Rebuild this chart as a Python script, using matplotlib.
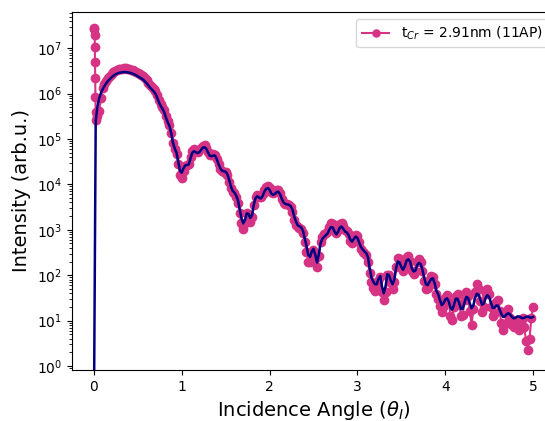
import numpy as np
import matplotlib
matplotlib.use("Agg")
import matplotlib.pyplot as plt

# Measured data: spike at the very first angles (theta, log10 intensity)
spike_theta = [0.004, 0.006, 0.008, 0.010, 0.012, 0.014, 0.016, 0.018, 0.020]
spike_log = [7.44, 7.42, 7.29, 7.03, 6.70, 6.34, 5.93, 5.60, 5.42]

# Measured data (log10 intensity), angle grid 0.04 ... 5.00 step 0.02
data_log = [
    5.50, 5.62, 5.90, 6.12, 6.22, 6.29, 6.35, 6.40,           # 0.04-0.18
    6.44, 6.47, 6.50, 6.52, 6.535, 6.545, 6.55, 6.555, 6.555, 6.55,  # 0.20-0.38
    6.54, 6.53, 6.515, 6.50, 6.48, 6.455, 6.43, 6.41, 6.38, 6.34,    # 0.40-0.58
    6.30, 6.24, 6.19, 6.15, 6.10, 6.05, 5.96, 5.86, 5.78, 5.71,      # 0.60-0.78
    5.63, 5.50, 5.40, 5.31, 5.14, 4.92, 4.78, 4.66, 4.45, 4.20,      # 0.80-0.98
    4.15, 4.30, 4.40, 4.42, 4.45, 4.60, 4.74, 4.77, 4.74, 4.72,      # 1.00-1.18
    4.75, 4.80, 4.85, 4.86, 4.81, 4.72, 4.64, 4.64, 4.67, 4.65,      # 1.20-1.38
    4.56, 4.44, 4.34, 4.29, 4.28, 4.28, 4.20, 4.06, 3.92, 3.84,      # 1.40-1.58
    3.80, 3.72, 3.60, 3.38, 3.15, 3.02, 3.15, 3.38, 3.30, 3.18,      # 1.60-1.78
    3.28, 3.55, 3.72, 3.77, 3.73, 3.72, 3.78, 3.88, 3.95, 3.96,      # 1.80-1.98
    3.92, 3.83, 3.80, 3.83, 3.87, 3.87, 3.80, 3.68, 3.59, 3.56,      # 2.00-2.18
    3.56, 3.55, 3.50, 3.40, 3.22, 3.10, 3.06, 3.05, 3.02, 2.93,      # 2.20-2.38
    2.74, 2.52, 2.30, 2.30, 2.50, 2.55, 2.35, 2.18, 2.42, 2.72,      # 2.40-2.58
    2.85, 2.90, 2.93, 2.98, 3.07, 3.14, 3.12, 3.00, 2.93, 3.00,      # 2.60-2.78
    3.12, 3.14, 3.08, 3.00, 2.97, 2.90, 2.76, 2.70, 2.80, 2.88,      # 2.80-2.98
    2.86, 2.72, 2.58, 2.52, 2.48, 2.45, 2.30, 2.05, 1.85, 1.72,      # 3.00-3.18
    1.66, 1.70, 1.88, 1.95, 1.62, 1.45, 1.62, 2.00, 2.00, 1.82,      # 3.20-3.38
    1.70, 1.85, 2.18, 2.38, 2.35, 2.20, 2.10, 2.22, 2.40, 2.42,      # 3.40-3.58
    2.32, 2.10, 2.02, 2.10, 2.28, 2.35, 2.30, 2.10, 1.88, 1.70,      # 3.60-3.78
    1.72, 1.85, 1.98, 1.97, 1.80, 1.58, 1.48, 1.32, 1.18, 1.30,      # 3.80-3.98
    1.50, 1.56, 1.40, 1.10, 1.02, 1.30, 1.55, 1.58, 1.36, 1.10,      # 4.00-4.18
    1.12, 1.45, 1.62, 1.55, 1.20, 0.90, 1.25, 1.62, 1.80, 1.70,      # 4.20-4.38
    1.42, 1.18, 1.30, 1.58, 1.70, 1.58, 1.30, 1.10, 1.15, 1.40,      # 4.40-4.58
    1.45, 1.20, 0.95, 0.80, 0.92, 1.15, 1.25, 1.05, 0.90, 0.85,      # 4.60-4.78
    1.00, 0.95, 0.80, 0.95, 1.05, 0.85, 0.55, 0.35, 0.60, 1.05,      # 4.80-4.98
    1.30,                                                            # 5.00
]

# Fit (log10 intensity), angle grid 0.00 ... 5.00 step 0.02
fit_log = [
    -1.0, 5.40, 5.72, 5.90, 6.02, 6.10, 6.17, 6.23, 6.28, 6.32,      # 0.00-0.18
    6.36, 6.39, 6.42, 6.44, 6.455, 6.465, 6.47, 6.475, 6.475, 6.47,  # 0.20-0.38
    6.465, 6.455, 6.44, 6.425, 6.405, 6.38, 6.36, 6.335, 6.31, 6.27, # 0.40-0.58
    6.23, 6.18, 6.13, 6.09, 6.05, 6.00, 5.91, 5.81, 5.73, 5.67,      # 0.60-0.78
    5.59, 5.47, 5.37, 5.29, 5.13, 4.92, 4.79, 4.70, 4.50, 4.30,      # 0.80-0.98
    4.26, 4.36, 4.42, 4.43, 4.44, 4.58, 4.70, 4.73, 4.71, 4.69,      # 1.00-1.18
    4.71, 4.76, 4.81, 4.82, 4.78, 4.70, 4.63, 4.62, 4.64, 4.63,      # 1.20-1.38
    4.55, 4.44, 4.35, 4.30, 4.29, 4.28, 4.22, 4.10, 3.95, 3.86,      # 1.40-1.58
    3.82, 3.75, 3.65, 3.45, 3.25, 3.14, 3.22, 3.36, 3.35, 3.26,      # 1.60-1.78
    3.32, 3.55, 3.70, 3.74, 3.71, 3.69, 3.74, 3.84, 3.90, 3.92,      # 1.80-1.98
    3.88, 3.80, 3.77, 3.79, 3.83, 3.84, 3.78, 3.68, 3.60, 3.57,      # 2.00-2.18
    3.56, 3.55, 3.52, 3.45, 3.30, 3.18, 3.10, 3.08, 3.05, 2.98,      # 2.20-2.38
    2.82, 2.65, 2.45, 2.40, 2.52, 2.58, 2.45, 2.28, 2.45, 2.70,      # 2.40-2.58
    2.80, 2.84, 2.88, 2.92, 3.00, 3.06, 3.05, 2.96, 2.90, 2.96,      # 2.60-2.78
    3.05, 3.07, 3.02, 2.96, 2.94, 2.88, 2.78, 2.74, 2.80, 2.85,      # 2.80-2.98
    2.82, 2.72, 2.62, 2.57, 2.52, 2.49, 2.40, 2.15, 1.95, 1.86,      # 3.00-3.18
    1.80, 1.80, 1.92, 1.98, 1.75, 1.60, 1.75, 2.02, 2.00, 1.88,      # 3.20-3.38
    1.80, 1.90, 2.15, 2.30, 2.28, 2.18, 2.12, 2.20, 2.32, 2.35,      # 3.40-3.58
    2.30, 2.15, 2.08, 2.10, 2.22, 2.27, 2.25, 2.12, 1.95, 1.80,      # 3.60-3.78
    1.78, 1.85, 1.92, 1.93, 1.82, 1.65, 1.58, 1.45, 1.34, 1.38,      # 3.80-3.98
    1.46, 1.49, 1.42, 1.28, 1.24, 1.35, 1.48, 1.48, 1.38, 1.25,      # 4.00-4.18
    1.26, 1.40, 1.52, 1.50, 1.38, 1.27, 1.33, 1.50, 1.59, 1.57,      # 4.20-4.38
    1.46, 1.35, 1.38, 1.50, 1.56, 1.52, 1.40, 1.28, 1.28, 1.33,      # 4.40-4.58
    1.33, 1.24, 1.14, 1.08, 1.09, 1.14, 1.16, 1.13, 1.08, 1.05,      # 4.60-4.78
    1.06, 1.09, 1.09, 1.07, 1.05, 1.06, 1.08, 1.09, 1.07, 1.06,      # 4.80-4.98
    1.08,                                                            # 5.00
]

legend_label = r"t$_{Cr}$ = 2.91nm (11AP)"
x_label = r"Incidence Angle ($\theta_I$)"
y_label = "Intensity (arb.u.)"

data_theta = np.concatenate([spike_theta, 0.04 + 0.02 * np.arange(len(data_log))])
data_int = 10.0 ** np.concatenate([spike_log, data_log])
fit_theta = 0.02 * np.arange(len(fit_log))
fit_int = 10.0 ** np.array(fit_log)

pink = "#d63384"

fig = plt.figure(figsize=(5.45, 4.21), dpi=100)
ax = fig.add_axes([72 / 545, 51 / 421, 483 / 545, 358 / 421])
ax.plot(data_theta, data_int, "-o", color=pink, lw=1.5, ms=6, label=legend_label)
ax.plot(fit_theta, fit_int, "-", color="navy", lw=1.8)
ax.set_yscale("log")
ax.set_xlim(-0.25, 5.25)
ax.set_ylim(10 ** -0.09, 10 ** 7.8)
ax.set_xticks([0, 1, 2, 3, 4, 5])
ax.set_xlabel(x_label, fontsize=14)
ax.set_ylabel(y_label, fontsize=14)
ax.tick_params(labelsize=10)
ax.legend(loc="upper right", fontsize=10, markerscale=0.85)
fig.savefig("out.png", dpi=100)
